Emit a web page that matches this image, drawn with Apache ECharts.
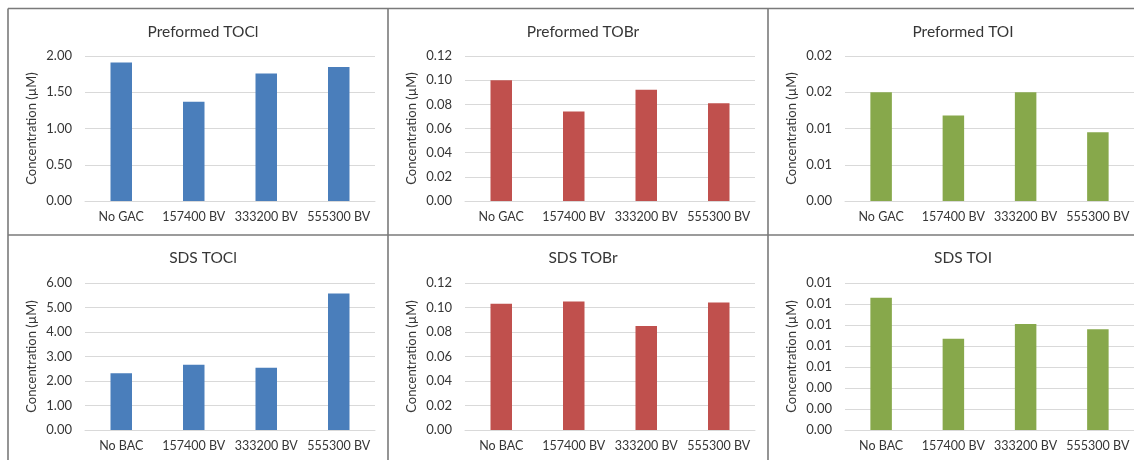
<!DOCTYPE html>
<html>
<head>
<meta charset="utf-8">
<script src="https://cdn.jsdelivr.net/npm/echarts@6/dist/echarts.min.js"></script>
<style>
  html, body { margin: 0; padding: 0; background: #ffffff; }
  #chart { width: 1134px; height: 460px; }
</style>
</head>
<body>
<div id="chart"></div>
<script>
// Categories (treatment / bed volumes)
const gacCategories = ['No GAC', '157400 BV', '333200 BV', '555300 BV'];
const bacCategories = ['No BAC', '157400 BV', '333200 BV', '555300 BV'];

// Concentrations, µM
const preformedTOCl = [1.91, 1.37, 1.76, 1.85];
const preformedTOBr = [0.100, 0.074, 0.092, 0.081];
const preformedTOI  = [0.0150, 0.0118, 0.0150, 0.0095];
const sdsTOCl       = [2.32, 2.66, 2.54, 5.57];
const sdsTOBr       = [0.103, 0.105, 0.085, 0.104];
const sdsTOI        = [0.0126, 0.0087, 0.0101, 0.0096];

// Value-axis tick labels (two decimals, rounded half up)
const preformedTOClTicks = ['0.00', '0.50', '1.00', '1.50', '2.00'];
const preformedTOBrTicks = ['0.00', '0.02', '0.04', '0.06', '0.08', '0.10', '0.12'];
const preformedTOITicks  = ['0.00', '0.01', '0.01', '0.02', '0.02'];
const sdsTOClTicks       = ['0.00', '1.00', '2.00', '3.00', '4.00', '5.00', '6.00'];
const sdsTOBrTicks       = ['0.00', '0.02', '0.04', '0.06', '0.08', '0.10', '0.12'];
const sdsTOITicks        = ['0.00', '0.00', '0.00', '0.01', '0.01', '0.01', '0.01', '0.01'];

// Tick spacing of each value axis
const preformedTOClStep = 0.5;
const preformedTOBrStep = 0.02;
const preformedTOIStep  = 0.005;
const sdsTOClStep       = 1;
const sdsTOBrStep       = 0.02;
const sdsTOIStep        = 0.002;

const BLUE = '#4a7ebb';
const RED = '#c0504d';
const GREEN = '#87a84b';
const TEXT = '#363636';
const FONT = 'Lato';

const panels = [
  { title: 'Preformed TOCl', cats: gacCategories, data: preformedTOCl, ticks: preformedTOClTicks, step: preformedTOClStep, color: BLUE,  col: 0, row: 0 },
  { title: 'Preformed TOBr', cats: gacCategories, data: preformedTOBr, ticks: preformedTOBrTicks, step: preformedTOBrStep, color: RED,   col: 1, row: 0 },
  { title: 'Preformed TOI',  cats: gacCategories, data: preformedTOI,  ticks: preformedTOITicks,  step: preformedTOIStep,  color: GREEN, col: 2, row: 0 },
  { title: 'SDS TOCl',       cats: bacCategories, data: sdsTOCl,       ticks: sdsTOClTicks,       step: sdsTOClStep,       color: BLUE,  col: 0, row: 1 },
  { title: 'SDS TOBr',       cats: bacCategories, data: sdsTOBr,       ticks: sdsTOBrTicks,       step: sdsTOBrStep,       color: RED,   col: 1, row: 1 },
  { title: 'SDS TOI',        cats: bacCategories, data: sdsTOI,        ticks: sdsTOITicks,        step: sdsTOIStep,        color: GREEN, col: 2, row: 1 }
];

// Panel frames: 380px wide columns, two rows
const colX = [8, 388, 768];
const panelW = 380;
const rowY = [8.5, 235];
const gridTop = [56, 283];
const gridH = [145, 147];

const option = {
  backgroundColor: '#ffffff',
  animation: false,
  title: [], grid: [], xAxis: [], yAxis: [], series: [],
  graphic: []
};

panels.forEach((p, i) => {
  const x0 = colX[p.col];
  option.title.push({
    text: p.title,
    left: x0 + panelW / 2,
    top: rowY[p.row] + 10,
    textAlign: 'center',
    textStyle: { fontFamily: FONT, fontSize: 15.5, fontWeight: 'normal', color: TEXT }
  });
  option.grid.push({
    left: x0 + 77,
    top: gridTop[p.row],
    width: 290,
    height: gridH[p.row],
    containLabel: false
  });
  option.xAxis.push({
    type: 'category',
    gridIndex: i,
    data: p.cats,
    axisLine: { show: true, lineStyle: { color: '#d9d9d9', width: 1 } },
    axisTick: { show: false },
    axisLabel: { interval: 0, margin: 9, fontFamily: FONT, fontSize: 12.5, color: TEXT }
  });
  option.yAxis.push({
    type: 'value',
    gridIndex: i,
    min: 0,
    max: p.step * (p.ticks.length - 1),
    interval: p.step,
    name: 'Concentration (µM)',
    nameLocation: 'middle',
    nameGap: 47,
    nameTextStyle: { fontFamily: FONT, fontSize: 13, color: TEXT },
    axisLine: { show: false },
    axisTick: { show: false },
    splitLine: { show: true, lineStyle: { color: '#d9d9d9', width: 1 } },
    axisLabel: {
      margin: 13,
      fontFamily: FONT, fontSize: 13, color: TEXT,
      formatter: (v) => p.ticks[Math.round(v / p.step)]
    }
  });
  option.series.push({
    type: 'bar',
    xAxisIndex: i,
    yAxisIndex: i,
    data: p.data,
    barWidth: 21.5,
    itemStyle: { color: p.color },
    silent: true
  });
});

// Frame lines between and around the panels
const frame = { stroke: '#7a7a7a', lineWidth: 1.6 };
[[8, 8.5, 1134, 8.5], [8, 235, 1134, 235], [8, 8.5, 8, 460], [388, 8.5, 388, 460], [768, 8.5, 768, 460]]
  .forEach(([x1, y1, x2, y2]) => {
    option.graphic.push({ type: 'line', silent: true, z: 100, shape: { x1, y1, x2, y2 }, style: frame });
  });

const chart = echarts.init(document.getElementById('chart'), null, { renderer: 'canvas' });
chart.setOption(option);
</script>
</body>
</html>
